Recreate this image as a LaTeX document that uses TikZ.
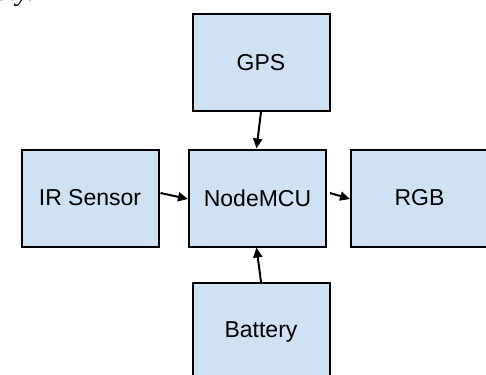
\documentclass[tikz,border=0pt]{standalone}
\usepackage{fontspec}
\setmainfont{Liberation Sans}
\newfontfamily\serifit{Liberation Serif}
\usetikzlibrary{arrows.meta}
\definecolor{boxfill}{HTML}{CFE2F3}
\begin{document}
\begin{tikzpicture}[x=1pt,y=-1pt,
  blk/.style={draw=black,line width=2pt,fill=boxfill,minimum width=137pt,minimum height=97pt,inner sep=0pt,font=\fontsize{23}{26}\selectfont},
  conn/.style={line width=2pt,-{Triangle[length=10pt,width=9pt]}}]
\useasboundingbox (0,0) rectangle (486,374);
\clip (0,0) rectangle (486,374);
\fill[white] (0,0) rectangle (486,374);
\node[anchor=base west,inner sep=0pt,font=\serifit\itshape\fontsize{28}{30}\selectfont] (frag) at (-4,1) {ety.};
\node[blk] (gps) at (261,62.5) {GPS};
\node[blk] (ir) at (90,198) {IR Sensor};
\node[blk] (mcu) at (257.5,198) {NodeMCU};
\node[blk] (rgb) at (419.5,198) {RGB};
\node[blk] (bat) at (261,331.5) {Battery};
\draw[conn] (gps.south) -- ([xshift=-1pt]mcu.north);
\draw[conn] (bat.north) -- ([xshift=-1pt]mcu.south);
\draw[conn] ([xshift=1pt,yshift=5pt]ir.east) -- ([yshift=-1pt]mcu.west);
\draw[conn] ([xshift=3pt,yshift=5pt]mcu.east) -- ([yshift=-1pt]rgb.west);
\end{tikzpicture}
\end{document}
